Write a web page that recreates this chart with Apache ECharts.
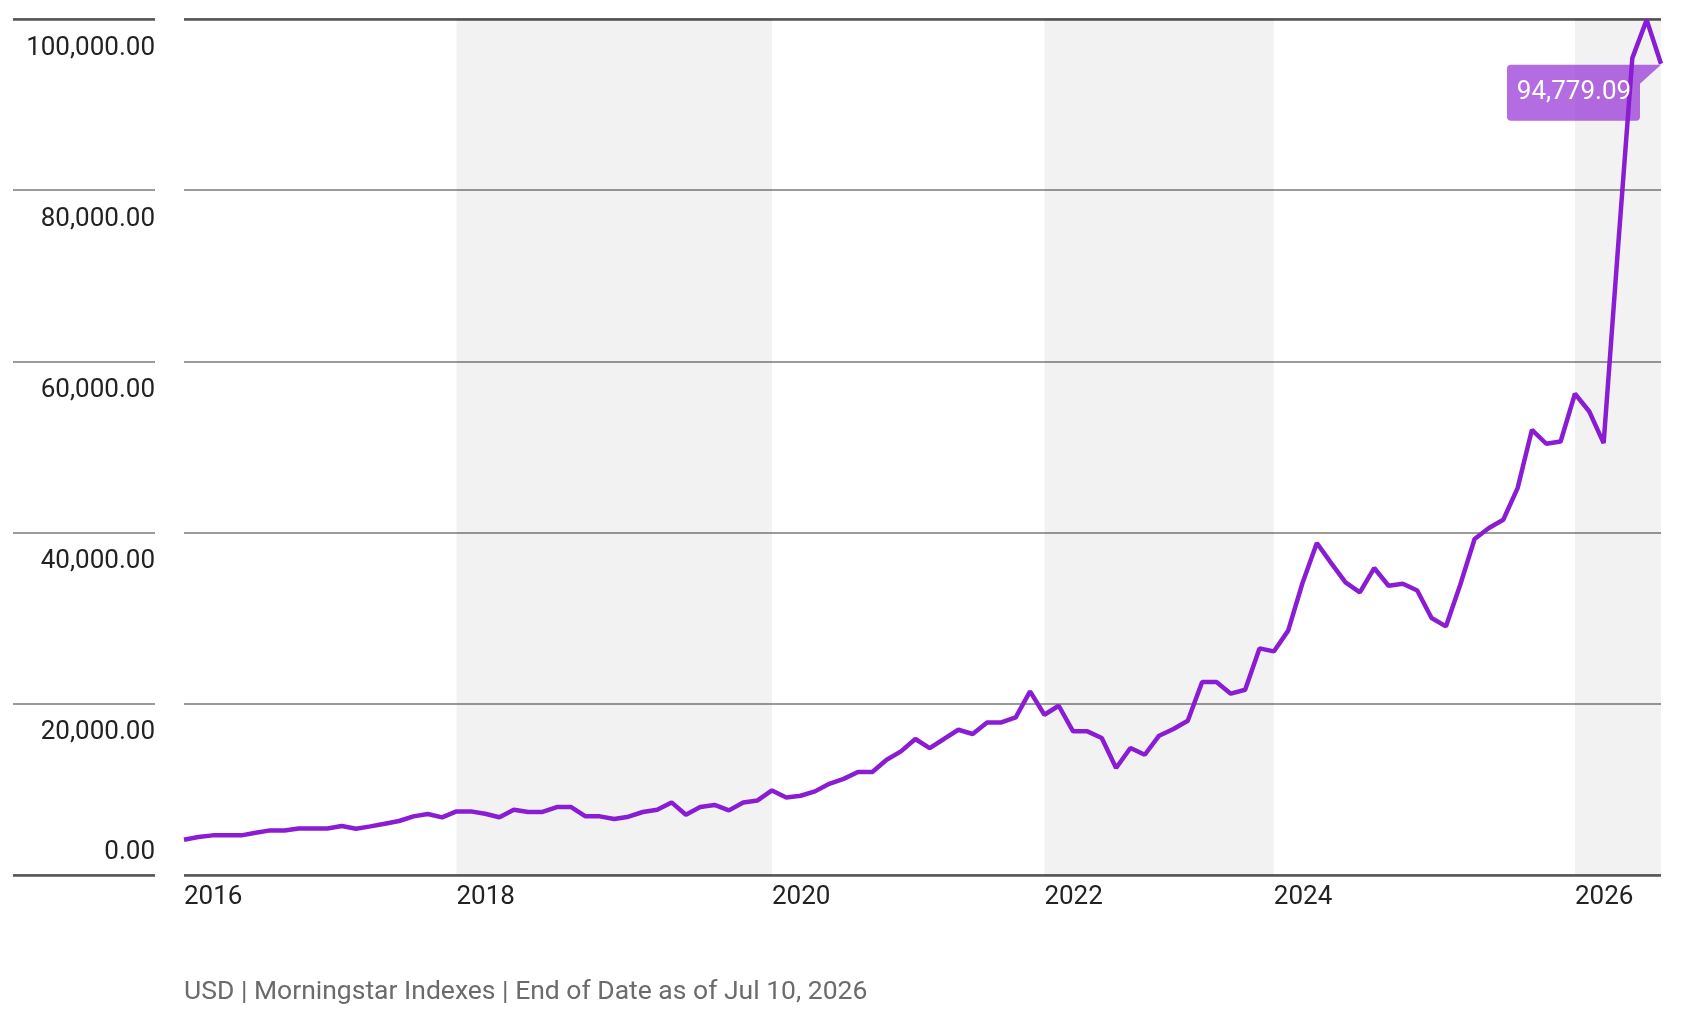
<!DOCTYPE html>
<html>
<head>
<meta charset="utf-8">
<title>Morningstar index</title>
<script src="https://cdn.jsdelivr.net/npm/echarts@6/dist/echarts.min.js"></script>
<style>
html,body{margin:0;padding:0;background:#fff;}
#chart{width:1684px;height:1014px;}
</style>
</head>
<body>
<div id="chart"></div>
<script>
// tick years on the x axis, and how many points fall in each two-year period
var yearLabels = ['2016', '2018', '2020', '2022', '2024', '2026'];
var pointsPerPeriod = [19, 22, 19, 16, 21, 7];
var shadedYears = ['2018', '2022', '2026'];

// index level (USD)
var values = [
    4120, 4440, 4630, 4630, 4630, 4940, 5210, 5210, 5440, 5440,
    5440, 5720, 5410, 5680, 5990, 6310, 6850, 7120, 6730, 7430,
    7430, 7160, 6750, 7630, 7360, 7360, 7940, 7940, 6850, 6850,
    6540, 6810, 7360, 7630, 8480, 7040, 7940, 8180, 7550, 8480,
    8710, 9880, 9060, 9260, 9770, 10650, 11230, 12030, 12030, 13470,
    14440, 15890, 14830, 15890, 16970, 16470, 17820, 17820, 18410, 21450,
    18720, 19770, 16780, 16780, 16000, 12500, 14830, 14050, 16270, 17050,
    18020, 22540, 22540, 21180, 21640, 26470, 26120, 28550, 34110, 38780,
    36440, 34180, 33010, 35860, 33790, 34020, 33240, 30020, 29040, 33910,
    39250, 40530, 41500, 45200, 52010, 50380, 50640, 56220, 54150, 50460,
    73200, 95430, 99900, 94779.09
];

var yMin = 0, yMax = 100000, yStep = 20000;
var footNote = 'USD | Morningstar Indexes | End of Date as of Jul 10, 2026';

var FONT = 'Roboto, "DejaVu Sans", sans-serif';
var FS = 26;
var LINE = '#8a1dd3';

function fmt(v){
    return Number(v).toLocaleString('en-US', {minimumFractionDigits: 2, maximumFractionDigits: 2});
}

// one category per point, named after its period
var categories = [];
yearLabels.forEach(function(y, i){
    for (var k = 0; k < pointsPerPeriod[i]; k++) categories.push(y + '-' + k);
});

// grey bands for every other period
var bands = [];
shadedYears.forEach(function(y){
    var i = yearLabels.indexOf(y);
    var end = i + 1 < yearLabels.length ? yearLabels[i + 1] + '-0' : categories[categories.length - 1];
    bands.push([{xAxis: y + '-0'}, {xAxis: end}]);
});

var last = values.length - 1;

var option = {
    animation: false,
    grid: {left: 184, right: 23, top: 19, bottom: 139, outerBoundsMode: 'none', containLabel: false},
    xAxis: {
        type: 'category',
        data: categories,
        boundaryGap: false,
        axisLine: {show: false},
        axisTick: {show: false},
        splitLine: {show: false},
        axisLabel: {
            interval: function(index, value){ return /-0$/.test(value); },
            formatter: function(value){ return value.split('-')[0]; },
            align: 'left',
            margin: 9,
            color: '#222',
            fontSize: FS,
            fontFamily: FONT
        }
    },
    yAxis: [{
        type: 'value', min: yMin, max: yMax, interval: yStep,
        position: 'left', offset: 29,
        axisLine: {show: false},
        axisTick: {show: true, inside: false, length: 142, lineStyle: {color: '#7a7a7a', width: 1.6}},
        splitLine: {lineStyle: {color: '#7a7a7a', width: 1.6}},
        axisLabel: {
            formatter: function(v){ return v === 0 ? '' : fmt(v); },
            verticalAlign: 'top', align: 'right', margin: 0, padding: [16, 0, 0, 0],
            color: '#222', fontSize: FS, fontFamily: FONT
        }
    }, {
        // darker top and bottom rules, plus the 0.00 label sitting above the base line
        type: 'value', min: yMin, max: yMax, interval: yMax,
        position: 'left', offset: 29,
        axisLine: {show: false},
        axisTick: {show: true, inside: false, length: 142, lineStyle: {color: '#555', width: 2.5}},
        splitLine: {lineStyle: {color: '#555', width: 2.5}},
        axisLabel: {
            formatter: function(v){ return v === 0 ? fmt(0) : ''; },
            verticalAlign: 'bottom', align: 'right', margin: 0, padding: [0, 0, 10, 0],
            color: '#222', fontSize: FS, fontFamily: FONT
        }
    }],
    graphic: [{
        type: 'text', left: 184, top: 979,
        style: {text: footNote, fill: '#6b6b6b', fontSize: 26.5, fontFamily: FONT}
    }],
    series: [{
        type: 'line',
        data: values,
        symbol: 'none',
        lineStyle: {color: LINE, width: 4.5},
        itemStyle: {color: LINE},
        markArea: {
            silent: true,
            itemStyle: {color: 'rgba(0,0,0,0.05)'},
            data: bands
        },
        markPoint: {
            silent: true,
            symbol: 'path://M4,0 L154,0 L133,19 L133,52 Q133,56 129,56 L4,56 Q0,56 0,52 L0,4 Q0,0 4,0 Z',
            symbolSize: [154, 56],
            symbolOffset: [-77, 29],
            itemStyle: {color: 'rgba(138,29,209,0.65)'},
            label: {
                show: true, position: 'inside', offset: [-10, 0],
                color: '#fff', fontSize: FS, fontFamily: FONT,
                formatter: function(p){ return fmt(p.value); }
            },
            data: [{coord: [categories[last], values[last]], value: values[last]}]
        }
    }]
};

var myChart = echarts.init(document.getElementById('chart'));
myChart.setOption(option);
</script>
</body>
</html>
